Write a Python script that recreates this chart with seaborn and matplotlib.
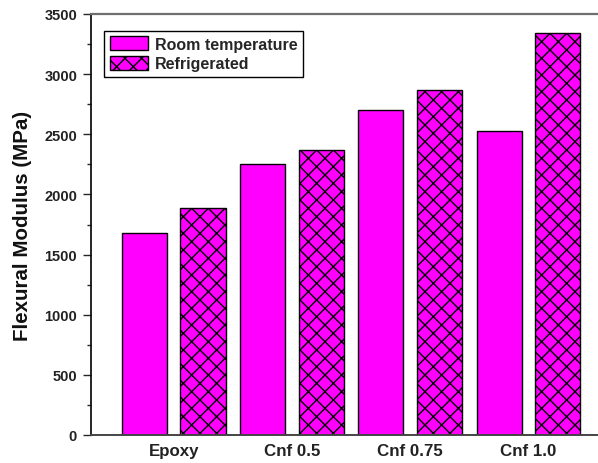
import matplotlib
matplotlib.use("Agg")
import matplotlib.pyplot as plt
import matplotlib.patches as mpatches
from matplotlib.ticker import MultipleLocator
import seaborn as sns
import pandas as pd

# Flexural modulus of epoxy / CNF composites under two storage conditions
samples = ["Epoxy", "Cnf 0.5", "Cnf 0.75", "Cnf 1.0"]
room_temp = [1680, 2250, 2700, 2525]
refrigerated = [1890, 2370, 2870, 3340]
conditions = ["Room temperature", "Refrigerated"]

df = pd.DataFrame({
    "sample": samples * 2,
    "modulus": room_temp + refrigerated,
    "condition": [conditions[0]] * len(samples) + [conditions[1]] * len(samples),
})

sns.set_style("white")
plt.rcParams["font.family"] = ["Liberation Sans", "DejaVu Sans"]
plt.rcParams["hatch.linewidth"] = 1.0
plt.rcParams["hatch.color"] = "black"

fig = plt.figure(figsize=(5.98, 4.64), dpi=100)
ax = fig.add_axes([91 / 598, 1 - 436 / 464, 506 / 598, 421 / 464])

magenta = "#ff00ff"
sns.barplot(data=df, x="sample", y="modulus", hue="condition",
            hue_order=conditions, palette=[magenta, magenta], saturation=1,
            width=0.99, gap=0.23, errorbar=None, edgecolor="black",
            linewidth=1.0, legend=False, ax=ax)

# cross-hatch the refrigerated series
for bar in ax.containers[1]:
    bar.set_hatch("xx")

ax.set_xlim(-0.70, 3.58)
ax.set_ylim(0, 3500)
ax.yaxis.set_major_locator(MultipleLocator(500))
ax.yaxis.set_minor_locator(MultipleLocator(250))

ax.set_xlabel("")
ax.set_ylabel("Flexural Modulus (MPa)", fontsize=14.8, fontweight="bold",
              labelpad=9, color="#111111")

ax.tick_params(axis="y", which="major", direction="out", length=6, width=1,
               left=True, labelsize=10.5, pad=4, labelcolor="#222222")
ax.tick_params(axis="y", which="minor", direction="out", length=3, width=1,
               left=True)
ax.tick_params(axis="x", length=0, labelsize=12.2, pad=6, labelcolor="#222222")
for lbl in ax.get_xticklabels() + ax.get_yticklabels():
    lbl.set_fontweight("bold")

ax.spines["right"].set_visible(False)
ax.spines["top"].set_color("#6e6e6e")
ax.spines["top"].set_linewidth(1.6)
ax.spines["left"].set_color("black")
ax.spines["left"].set_linewidth(1.2)
ax.spines["bottom"].set_color("#444444")
ax.spines["bottom"].set_linewidth(1.4)

handles = [
    mpatches.Patch(facecolor=magenta, edgecolor="black", linewidth=1.0,
                   label=conditions[0]),
    mpatches.Patch(facecolor=magenta, edgecolor="black", linewidth=1.0,
                   hatch="xx", label=conditions[1]),
]
leg = ax.legend(handles=handles, loc="upper left",
                bbox_to_anchor=(0.026, 0.960), frameon=True, fancybox=False,
                framealpha=1, edgecolor="black", borderpad=0.35,
                handlelength=2.4, handleheight=0.9, handletextpad=0.45,
                labelspacing=0.3, borderaxespad=0,
                prop={"weight": "bold", "size": 11.5})
leg.get_frame().set_linewidth(1.0)

fig.savefig("out.png", dpi=100)
